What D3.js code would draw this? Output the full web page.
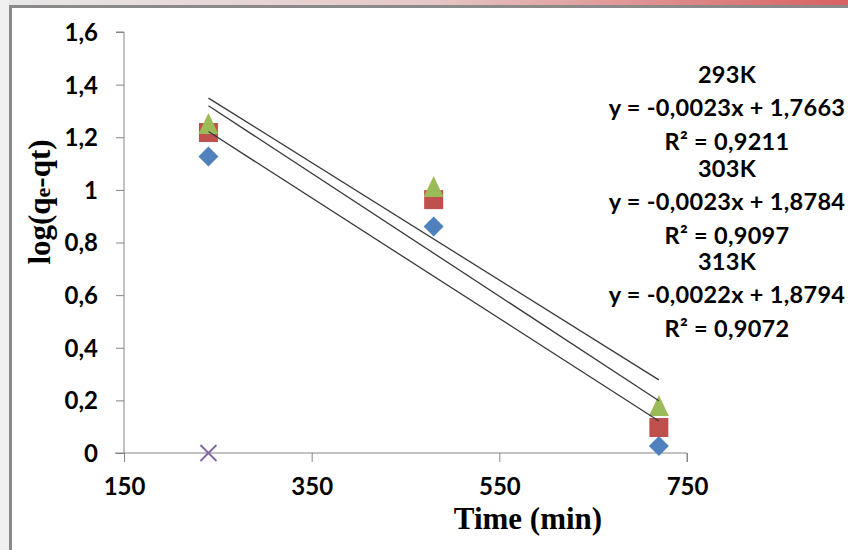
<!DOCTYPE html>
<html>
<head>
<meta charset="utf-8">
<script src="https://cdn.jsdelivr.net/npm/d3@7"></script>
<style>
  html, body { margin: 0; padding: 0; background: #fff; }
  svg { display: block; }
</style>
</head>
<body>
<svg id="chart" width="848" height="550"></svg>
<script>
// ---------- data ----------
const times = [240, 480, 720];
const seriesNames = ["293K", "303K", "313K"];
const values293 = [1.127, 0.861, 0.027];
const values303 = [1.218, 0.963, 0.097];
const values313 = [1.250, 1.011, 0.179];
const extraTimes = [240];
const extraValues = [0];
const equations = ["y = -0,0023x + 1,7663", "y = -0,0023x + 1,8784", "y = -0,0022x + 1,8794"];
const r2Values = ["0,9211", "0,9097", "0,9072"];
const xTicks = [150, 350, 550, 750];
const yTicks = [0, 0.2, 0.4, 0.6, 0.8, 1.0, 1.2, 1.4, 1.6];

const colors = ["#4F81BD", "#C0504D", "#9BBB59"];
const shapes = ["diamond", "square", "triangle"];
const allSeries = [values293, values303, values313];

// ---------- layout ----------
const svg = d3.select("#chart");
const x = d3.scaleLinear().domain([150, 750]).range([124, 687]);
const y = d3.scaleLinear().domain([0, 1.6]).range([453, 32]);

// frame
const defs = svg.append("defs");
const grad = defs.append("linearGradient").attr("id", "topgrad").attr("x1", "0").attr("x2", "1");
grad.append("stop").attr("offset", "0").attr("stop-color", "#e8e8e8");
grad.append("stop").attr("offset", "0.5").attr("stop-color", "#e6c8c8");
grad.append("stop").attr("offset", "1").attr("stop-color", "#d86060");
svg.append("rect").attr("x", 0).attr("y", 0).attr("width", 848).attr("height", 5).attr("fill", "url(#topgrad)");
svg.append("rect").attr("x", 0).attr("y", 0).attr("width", 9).attr("height", 550).attr("fill", "#f0f0f0");
svg.append("rect").attr("x", 9).attr("y", 5).attr("width", 839).attr("height", 3).attr("fill", "#8a8a8a");
svg.append("rect").attr("x", 9).attr("y", 5).attr("width", 3).attr("height", 545).attr("fill", "#8a8a8a");

const fmt = d => d3.format(".1f")(d).replace(".", ",").replace(/,0$/, "");
const tickFont = "Lato, 'Open Sans', sans-serif";

// y axis
const yAxis = d3.axisLeft(y).tickValues(yTicks).tickSize(8).tickFormat(fmt);
const gy = svg.append("g").attr("transform", "translate(124,0)").call(yAxis);
gy.select(".domain").attr("stroke", "#868686").attr("d", `M-8,${y(1.6)}H0V${y(0)}`);
gy.selectAll(".tick line").attr("stroke", "#868686");
gy.selectAll(".tick text").attr("x", -26).attr("dy", "0.35em")
  .attr("font-family", tickFont).attr("font-weight", 700).attr("font-size", 24).attr("fill", "#000");

// x axis
const xAxis = d3.axisBottom(x).tickValues(xTicks).tickSize(9).tickFormat(d3.format("d"));
const gx = svg.append("g").attr("transform", `translate(0,${y(0)})`).call(xAxis);
gx.select(".domain").attr("stroke", "#868686").attr("d", `M${x(150) - 9},0H${x(750)}V9`);
gx.selectAll(".tick line").attr("stroke", "#868686");
gx.selectAll(".tick text").attr("y", 25).attr("dy", "0.71em")
  .attr("font-family", tickFont).attr("font-weight", 700).attr("font-size", 24).attr("fill", "#000");

// markers
function markerPath(shape) {
  if (shape === "diamond") return "M0,-10L10,0L0,10L-10,0Z";
  if (shape === "square") return "M-9.5,-9.5H9.5V9.5H-9.5Z";
  return "M0,-11L10,10H-10Z";
}
allSeries.forEach((vals, i) => {
  svg.append("g").selectAll("path").data(times.map((t, j) => [t, vals[j]])).join("path")
    .attr("transform", d => `translate(${x(d[0])},${y(d[1])})`)
    .attr("d", markerPath(shapes[i]))
    .attr("fill", colors[i]);
});

// extra series (X marker)
svg.append("g").selectAll("path").data(extraTimes.map((t, j) => [t, extraValues[j]])).join("path")
  .attr("transform", d => `translate(${x(d[0])},${y(d[1])})`)
  .attr("d", "M-8,-8L8,8M-8,8L8,-8")
  .attr("stroke", "#8064A2").attr("stroke-width", 1.8).attr("fill", "none");

// linear trend lines (least squares)
function fit(xs, ys) {
  const mx = d3.mean(xs), my = d3.mean(ys);
  const b = d3.sum(xs, (v, k) => (v - mx) * (ys[k] - my)) / d3.sum(xs, v => (v - mx) ** 2);
  return { b, a: my - b * mx };
}
const x0 = d3.min(times), x1 = d3.max(times);
allSeries.forEach(vals => {
  const f = fit(times, vals);
  svg.append("line")
    .attr("x1", x(x0)).attr("y1", y(f.a + f.b * x0))
    .attr("x2", x(x1)).attr("y2", y(f.a + f.b * x1))
    .attr("stroke", "#3a3a3a").attr("stroke-width", 1.3);
});

// trendline labels
const labelX = 727;
const labelFont = "Lato, 'Open Sans', sans-serif";
seriesNames.forEach((name, i) => {
  const base = 83 + i * 93.5;
  const g = svg.append("g").attr("font-family", labelFont).attr("font-weight", 700)
    .attr("font-size", 23.5).attr("letter-spacing", 0.3).attr("text-anchor", "middle").attr("fill", "#000");
  g.append("text").attr("x", labelX).attr("y", base).text(name);
  g.append("text").attr("x", labelX).attr("y", base + 33).text(equations[i]);
  g.append("text").attr("x", labelX).attr("y", base + 67).text("R² = " + r2Values[i]);
});

// axis titles
svg.append("text")
  .attr("transform", "translate(50,202) rotate(-90)")
  .attr("text-anchor", "middle")
  .attr("font-family", "'Liberation Serif', 'Times New Roman', serif")
  .attr("font-weight", 700).attr("font-size", 31).attr("fill", "#000")
  .call(t => {
    t.append("tspan").text("log(q");
    t.append("tspan").attr("font-size", 22).text("e");
    t.append("tspan").text("-qt)");
  });

svg.append("text")
  .attr("x", 528).attr("y", 529)
  .attr("text-anchor", "middle")
  .attr("font-family", "'Liberation Serif', 'Times New Roman', serif")
  .attr("font-weight", 700).attr("font-size", 31).attr("fill", "#000")
  .text("Time (min)");
</script>
</body>
</html>
